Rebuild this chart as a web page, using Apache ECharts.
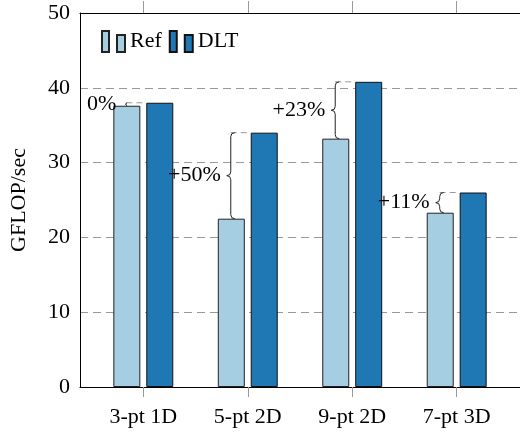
<!DOCTYPE html>
<html>
<head>
<meta charset="utf-8">
<script src="https://cdn.jsdelivr.net/npm/echarts@6/dist/echarts.min.js"></script>
<style>
  html, body { margin: 0; padding: 0; background: #fff; }
  #chart { width: 520px; height: 432px; }
</style>
</head>
<body>
<div id="chart"></div>
<script>
// data
const categories = ["3-pt 1D", "5-pt 2D", "9-pt 2D", "7-pt 3D"];
const refValues = [37.6, 22.5, 33.2, 23.3];
const dltValues = [38.0, 34.0, 40.8, 26.0];
const speedupLabels = ["0%", "+50%", "+23%", "+11%"];
const yTicks = [0, 10, 20, 30, 40, 50];

const FONT = '"Liberation Serif", "DejaVu Serif", serif';
const catIdx = categories.map((c, i) => i);

const chart = echarts.init(document.getElementById("chart"));

// curly brace "{" from y1 (top) to y2 (bottom) at x
function bracePath(x, y1, y2) {
  const h = y2 - y1;
  const r = Math.min(4, h / 4);
  const ym = (y1 + y2) / 2;
  return "M" + (x + r) + "," + y1 +
    " Q" + x + "," + y1 + " " + x + "," + (y1 + r) +
    " L" + x + "," + (ym - r) +
    " Q" + x + "," + ym + " " + (x - r) + "," + ym +
    " Q" + x + "," + ym + " " + x + "," + (ym + r) +
    " L" + x + "," + (y2 - r) +
    " Q" + x + "," + y2 + " " + (x + r) + "," + y2;
}

const braceData = categories.map((c, i) => [i, refValues[i], dltValues[i], speedupLabels[i]]);

const option = {
  animation: false,
  grid: { left: 78, top: 13, width: 452, height: 374 },
  legend: {
    data: ["Ref", "DLT"],
    left: 101,
    top: 30,
    padding: 0,
    itemWidth: 23,
    itemHeight: 21,
    itemGap: 7,
    icon: "path://M0,0 h7 v21 h-7 Z M15,4 h8 v17 h-8 Z",
    textStyle: { fontFamily: FONT, fontSize: 22, color: "#000" }
  },
  xAxis: [
    {
      type: "value",
      min: -0.606,
      max: 3.606,
      position: "bottom",
      splitLine: { show: false },
      axisLine: { show: true, onZero: false, lineStyle: { color: "#000", width: 1 } },
      axisTick: { show: true, customValues: catIdx, length: 10, lineStyle: { color: "#999" } },
      axisLabel: {
        customValues: catIdx,
        formatter: (v) => categories[Math.round(v)],
        fontFamily: FONT, fontSize: 22, color: "#000", margin: 19
      }
    },
    {
      type: "value",
      min: -0.606,
      max: 3.606,
      position: "top",
      splitLine: { show: false },
      axisLine: { show: true, onZero: false, lineStyle: { color: "#000", width: 1 } },
      axisTick: { show: true, customValues: catIdx, length: 12, lineStyle: { color: "#999" } },
      axisLabel: { show: false }
    }
  ],
  yAxis: {
    type: "value",
    min: yTicks[0],
    max: yTicks[yTicks.length - 1],
    interval: 10,
    name: "GFLOP/sec",
    nameLocation: "middle",
    nameGap: 50,
    nameTextStyle: { fontFamily: FONT, fontSize: 22, color: "#000" },
    axisLine: { show: true, onZero: false, lineStyle: { color: "#000" } },
    axisTick: { show: false },
    axisLabel: { fontFamily: FONT, fontSize: 22, color: "#000", margin: 10 },
    splitLine: { show: true, lineStyle: { color: "#999", type: [8, 5], width: 1 } }
  },
  series: [
    {
      name: "Ref",
      type: "bar",
      barWidth: 27,
      barGap: "22%",
      data: refValues.map((v, i) => [i, v]),
      itemStyle: { color: "#a6cee3", borderColor: "#222", borderWidth: 1 }
    },
    {
      name: "DLT",
      type: "bar",
      barWidth: 27,
      barGap: "22%",
      data: dltValues.map((v, i) => [i, v]),
      itemStyle: { color: "#1f78b4", borderColor: "#111", borderWidth: 1 }
    },
    {
      type: "custom",
      z: 5,
      encode: { x: 0, y: [1, 2] },
      data: braceData,
      renderItem: function (params, api) {
        const c = api.value(0);
        const pRef = api.coord([c, api.value(1)]);
        const pDlt = api.coord([c, api.value(2)]);
        const xb = pRef[0] - 17;
        const yTop = pDlt[1];
        const yBot = pRef[1];
        const ym = (yTop + yBot) / 2;
        return {
          type: "group",
          children: [
            {
              type: "line",
              shape: { x1: xb, y1: yTop, x2: pDlt[0] + 3, y2: yTop },
              style: { stroke: "#999", lineWidth: 1, lineDash: [6, 4] }
            },
            {
              type: "path",
              shape: { pathData: bracePath(xb, yTop, yBot) },
              style: { stroke: "#222", lineWidth: 1, fill: null }
            },
            {
              type: "text",
              style: {
                text: braceData[params.dataIndex][3],
                x: xb - 10,
                y: ym,
                align: "right",
                verticalAlign: "middle",
                font: "22px " + FONT,
                fill: "#000"
              }
            }
          ]
        };
      }
    }
  ]
};

chart.setOption(option);
</script>
</body>
</html>
